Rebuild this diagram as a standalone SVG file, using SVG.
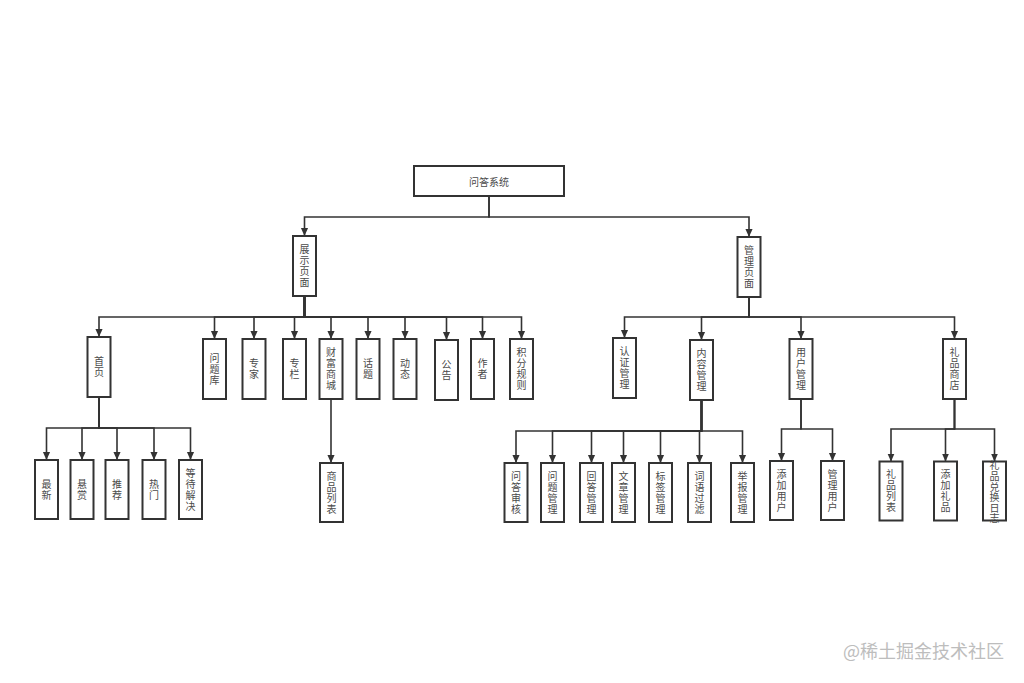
<svg xmlns="http://www.w3.org/2000/svg" width="1024" height="683" viewBox="0 0 1024 683">
<style>
.box{fill:#fff;stroke:#333;stroke-width:2}
.t{font-family:"Noto Sans CJK SC","Liberation Sans",sans-serif;font-size:10px;fill:#4a4a4a;text-anchor:middle;dominant-baseline:central}
.v{font-family:"Noto Sans CJK SC","Liberation Sans",sans-serif;font-size:10px;fill:#4a4a4a;text-anchor:middle;writing-mode:vertical-rl;letter-spacing:1px}
.c{fill:none;stroke:#333;stroke-width:1.6}
.wm{font-family:"Noto Sans CJK SC","Liberation Sans",sans-serif;font-size:18px;fill:#bdbdbd}
</style>
<defs>
<marker id="ah" markerUnits="userSpaceOnUse" markerWidth="8" markerHeight="10" refX="9" refY="4" orient="auto" viewBox="0 0 9 8">
<path d="M0,0 L9,4 L0,8 z" fill="#333"/>
</marker>
</defs>
<rect width="1024" height="683" fill="#fff"/>
<g id="connectors">
<path class="c" marker-end="url(#ah)" d="M489,196 V217 H304.5 V236"/>
<path class="c" marker-end="url(#ah)" d="M489,196 V217 H749 V237"/>
<path class="c" marker-end="url(#ah)" d="M304.5,296 V317 H99 V337"/>
<path class="c" marker-end="url(#ah)" d="M304.5,296 V317 H214.5 V339"/>
<path class="c" marker-end="url(#ah)" d="M304.5,296 V317 H254 V339"/>
<path class="c" marker-end="url(#ah)" d="M304.5,296 V317 H294.5 V339"/>
<path class="c" marker-end="url(#ah)" d="M304.5,296 V317 H331 V339"/>
<path class="c" marker-end="url(#ah)" d="M304.5,296 V317 H368 V339"/>
<path class="c" marker-end="url(#ah)" d="M304.5,296 V317 H405 V339"/>
<path class="c" marker-end="url(#ah)" d="M304.5,296 V317 H446.5 V340"/>
<path class="c" marker-end="url(#ah)" d="M304.5,296 V317 H482.5 V339"/>
<path class="c" marker-end="url(#ah)" d="M304.5,296 V317 H521.5 V339"/>
<path class="c" marker-end="url(#ah)" d="M749,297 V317 H624.5 V338"/>
<path class="c" marker-end="url(#ah)" d="M749,297 V317 H701.5 V340"/>
<path class="c" marker-end="url(#ah)" d="M749,297 V317 H801 V339"/>
<path class="c" marker-end="url(#ah)" d="M749,297 V317 H954.5 V339"/>
<path class="c" marker-end="url(#ah)" d="M99,397 V428 H46.5 V460"/>
<path class="c" marker-end="url(#ah)" d="M99,397 V428 H82 V460"/>
<path class="c" marker-end="url(#ah)" d="M99,397 V428 H117 V460"/>
<path class="c" marker-end="url(#ah)" d="M99,397 V428 H154 V460"/>
<path class="c" marker-end="url(#ah)" d="M99,397 V428 H190.5 V460"/>
<path class="c" marker-end="url(#ah)" d="M331,399 V463"/>
<path class="c" marker-end="url(#ah)" d="M701.5,400 V431 H516 V463"/>
<path class="c" marker-end="url(#ah)" d="M701.5,400 V431 H552.5 V463"/>
<path class="c" marker-end="url(#ah)" d="M701.5,400 V431 H591.5 V463"/>
<path class="c" marker-end="url(#ah)" d="M701.5,400 V431 H623.5 V463"/>
<path class="c" marker-end="url(#ah)" d="M701.5,400 V431 H660.5 V463"/>
<path class="c" marker-end="url(#ah)" d="M701.5,400 V431 H699.5 V463"/>
<path class="c" marker-end="url(#ah)" d="M701.5,400 V431 H742.5 V463"/>
<path class="c" marker-end="url(#ah)" d="M801,399 V429 H781.5 V461"/>
<path class="c" marker-end="url(#ah)" d="M801,399 V429 H832.5 V461"/>
<path class="c" marker-end="url(#ah)" d="M954.5,399 V429 H891 V461.5"/>
<path class="c" marker-end="url(#ah)" d="M954.5,399 V429 H945.5 V461.5"/>
<path class="c" marker-end="url(#ah)" d="M954.5,399 V429 H994.5 V461.5"/>
</g>
<g id="root"><rect class="box" x="414" y="166" width="150" height="30"/><text class="t" x="489" y="181">问答系统</text></g>
<g id="n-zhanshi"><rect class="box" x="293" y="236" width="23" height="60"/><text class="v" x="304.5" y="266.5">展示页面</text></g>
<g id="n-guanli"><rect class="box" x="737.5" y="237" width="23" height="60"/><text class="v" x="749" y="267.5">管理页面</text></g>
<g id="n-shouye"><rect class="box" x="87.5" y="337" width="23" height="60"/><text class="v" x="99" y="367.5">首页</text></g>
<g id="n-wentiku"><rect class="box" x="203" y="339" width="23" height="60"/><text class="v" x="214.5" y="369.5">问题库</text></g>
<g id="n-zhuanjia"><rect class="box" x="242.5" y="339" width="23" height="60"/><text class="v" x="254" y="369.5">专家</text></g>
<g id="n-zhuanlan"><rect class="box" x="283" y="339" width="23" height="60"/><text class="v" x="294.5" y="369.5">专栏</text></g>
<g id="n-caifu"><rect class="box" x="319.5" y="339" width="23" height="60"/><text class="v" x="331" y="369.5">财富商城</text></g>
<g id="n-huati"><rect class="box" x="356.5" y="339" width="23" height="60"/><text class="v" x="368" y="369.5">话题</text></g>
<g id="n-dongtai"><rect class="box" x="393.5" y="339" width="23" height="60"/><text class="v" x="405" y="369.5">动态</text></g>
<g id="n-gonggao"><rect class="box" x="435" y="340" width="23" height="60"/><text class="v" x="446.5" y="370.5">公告</text></g>
<g id="n-zuozhe"><rect class="box" x="471" y="339" width="23" height="60"/><text class="v" x="482.5" y="369.5">作者</text></g>
<g id="n-jifen"><rect class="box" x="510" y="339" width="23" height="60"/><text class="v" x="521.5" y="369.5">积分规则</text></g>
<g id="n-renzheng"><rect class="box" x="613" y="338" width="23" height="60"/><text class="v" x="624.5" y="368.5">认证管理</text></g>
<g id="n-neirong"><rect class="box" x="690" y="340" width="23" height="60"/><text class="v" x="701.5" y="370.5">内容管理</text></g>
<g id="n-yonghu"><rect class="box" x="789.5" y="339" width="23" height="60"/><text class="v" x="801" y="369.5">用户管理</text></g>
<g id="n-lipin"><rect class="box" x="943" y="339" width="23" height="60"/><text class="v" x="954.5" y="369.5">礼品商店</text></g>
<g id="n-zuixin"><rect class="box" x="35" y="460" width="23" height="59"/><text class="v" x="46.5" y="490">最新</text></g>
<g id="n-xuanshang"><rect class="box" x="70.5" y="460" width="23" height="59"/><text class="v" x="82" y="490">悬赏</text></g>
<g id="n-tuijian"><rect class="box" x="105.5" y="460" width="23" height="59"/><text class="v" x="117" y="490">推荐</text></g>
<g id="n-remen"><rect class="box" x="142.5" y="460" width="23" height="59"/><text class="v" x="154" y="490">热门</text></g>
<g id="n-dengdai"><rect class="box" x="179" y="460" width="23" height="59"/><text class="v" x="190.5" y="490">等待解决</text></g>
<g id="n-shangpin"><rect class="box" x="320" y="463" width="23" height="59"/><text class="v" x="331.5" y="493">商品列表</text></g>
<g id="n-wendashenhe"><rect class="box" x="504.5" y="463" width="23" height="59"/><text class="v" x="516" y="493">问答审核</text></g>
<g id="n-wentiguanli"><rect class="box" x="541" y="463" width="23" height="59"/><text class="v" x="552.5" y="493">问题管理</text></g>
<g id="n-huida"><rect class="box" x="580" y="463" width="23" height="59"/><text class="v" x="591.5" y="493">回答管理</text></g>
<g id="n-wenzhang"><rect class="box" x="612" y="463" width="23" height="59"/><text class="v" x="623.5" y="493">文章管理</text></g>
<g id="n-biaoqian"><rect class="box" x="649" y="463" width="23" height="59"/><text class="v" x="660.5" y="493">标签管理</text></g>
<g id="n-ciyu"><rect class="box" x="688" y="463" width="23" height="59"/><text class="v" x="699.5" y="493">词语过滤</text></g>
<g id="n-jubao"><rect class="box" x="731" y="463" width="23" height="59"/><text class="v" x="742.5" y="493">举报管理</text></g>
<g id="n-tianjiayonghu"><rect class="box" x="770" y="461" width="23" height="59"/><text class="v" x="781.5" y="491">添加用户</text></g>
<g id="n-guanliyonghu"><rect class="box" x="821" y="461" width="23" height="59"/><text class="v" x="832.5" y="491">管理用户</text></g>
<g id="n-lipinliebiao"><rect class="box" x="879.5" y="461.5" width="23" height="59"/><text class="v" x="891" y="491.5">礼品列表</text></g>
<g id="n-tianjialipin"><rect class="box" x="934" y="461.5" width="23" height="59"/><text class="v" x="945.5" y="491.5">添加礼品</text></g>
<g id="n-duihuan"><rect class="box" x="983" y="461.5" width="23" height="59"/><text class="v" x="994.5" y="492.5" style="letter-spacing:0.6px">礼品兑换日志</text></g>
<text class="wm" x="843" y="658">@稀土掘金技术社区</text>
</svg>
